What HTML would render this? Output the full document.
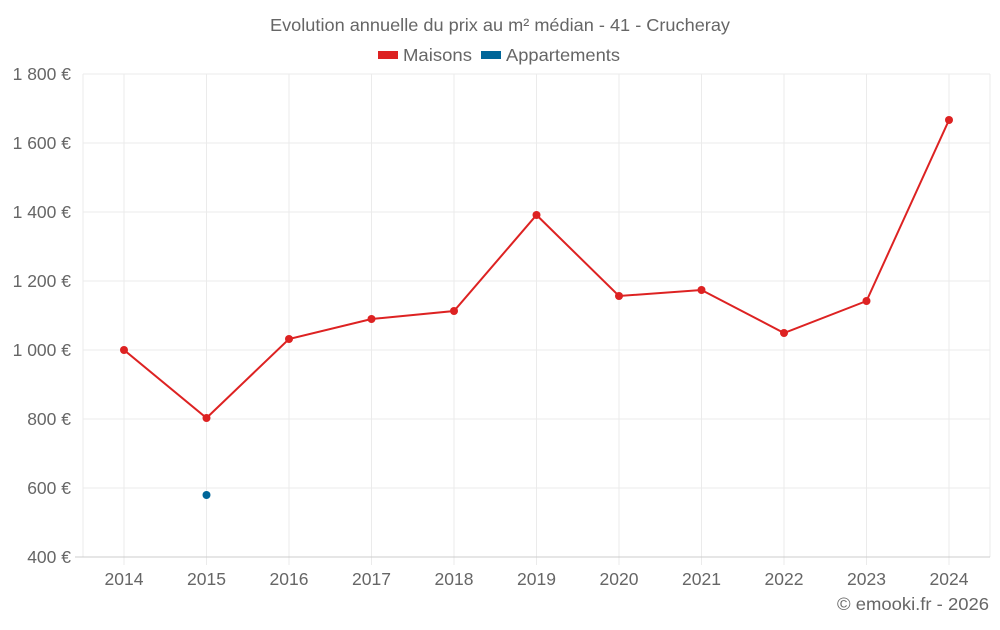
<!DOCTYPE html>
<html><head><meta charset="utf-8"><style>
body{margin:0;background:#fff;}
text{font-family:"Liberation Sans",sans-serif;fill:#666;}
</style></head><body>
<svg width="1000" height="625" xmlns="http://www.w3.org/2000/svg">
<text x="500" y="31" text-anchor="middle" font-size="17.5" textLength="460" lengthAdjust="spacingAndGlyphs">Evolution annuelle du prix au m² médian - 41 - Crucheray</text>
<rect x="378" y="51" width="20" height="8" fill="#dd2222"/>
<text x="403" y="61" font-size="17.5" textLength="69" lengthAdjust="spacingAndGlyphs">Maisons</text>
<rect x="481" y="51" width="20" height="8" fill="#006699"/>
<text x="506" y="61" font-size="17.5" textLength="114" lengthAdjust="spacingAndGlyphs">Appartements</text>
<g stroke="#ebebeb" stroke-width="1">
<line x1="83" y1="74" x2="990" y2="74"/><line x1="83" y1="143" x2="990" y2="143"/>
<line x1="83" y1="212" x2="990" y2="212"/><line x1="83" y1="281" x2="990" y2="281"/>
<line x1="83" y1="350" x2="990" y2="350"/><line x1="83" y1="419" x2="990" y2="419"/>
<line x1="83" y1="488" x2="990" y2="488"/>
<line x1="83" y1="74" x2="83" y2="557"/><line x1="990" y1="74" x2="990" y2="557"/>
<line x1="124" y1="74" x2="124" y2="565"/><line x1="206.5" y1="74" x2="206.5" y2="565"/>
<line x1="289" y1="74" x2="289" y2="565"/><line x1="371.5" y1="74" x2="371.5" y2="565"/>
<line x1="454" y1="74" x2="454" y2="565"/><line x1="536.5" y1="74" x2="536.5" y2="565"/>
<line x1="619" y1="74" x2="619" y2="565"/><line x1="701.5" y1="74" x2="701.5" y2="565"/>
<line x1="784" y1="74" x2="784" y2="565"/><line x1="866.5" y1="74" x2="866.5" y2="565"/>
<line x1="949" y1="74" x2="949" y2="565"/>
</g>
<line x1="75" y1="557" x2="990" y2="557" stroke="#ccc"/>
<g font-size="17.5" text-anchor="end">
<text x="71" y="80">1 800 €</text><text x="71" y="149">1 600 €</text>
<text x="71" y="218">1 400 €</text><text x="71" y="287">1 200 €</text>
<text x="71" y="356">1 000 €</text><text x="71" y="425">800 €</text>
<text x="71" y="494">600 €</text><text x="71" y="563">400 €</text>
</g>
<g font-size="17.5" text-anchor="middle">
<text x="124" y="585">2014</text><text x="206.5" y="585">2015</text><text x="289" y="585">2016</text>
<text x="371.5" y="585">2017</text><text x="454" y="585">2018</text><text x="536.5" y="585">2019</text>
<text x="619" y="585">2020</text><text x="701.5" y="585">2021</text><text x="784" y="585">2022</text>
<text x="866.5" y="585">2023</text><text x="949" y="585">2024</text>
</g>
<polyline fill="none" stroke="#dd2222" stroke-width="2" points="124,350 206.5,418 289,339 371.5,319 454,311 536.5,215 619,296 701.5,290 784,333 866.5,301 949,120"/>
<g fill="#dd2222">
<circle cx="124" cy="350" r="4"/><circle cx="206.5" cy="418" r="4"/><circle cx="289" cy="339" r="4"/>
<circle cx="371.5" cy="319" r="4"/><circle cx="454" cy="311" r="4"/><circle cx="536.5" cy="215" r="4"/>
<circle cx="619" cy="296" r="4"/><circle cx="701.5" cy="290" r="4"/><circle cx="784" cy="333" r="4"/>
<circle cx="866.5" cy="301" r="4"/><circle cx="949" cy="120" r="4"/>
</g>
<circle cx="206.5" cy="495" r="4" fill="#006699"/>
<text x="989" y="610" font-size="17.5" text-anchor="end" textLength="152" lengthAdjust="spacingAndGlyphs">© emooki.fr - 2026</text>
</svg>
</body></html>
